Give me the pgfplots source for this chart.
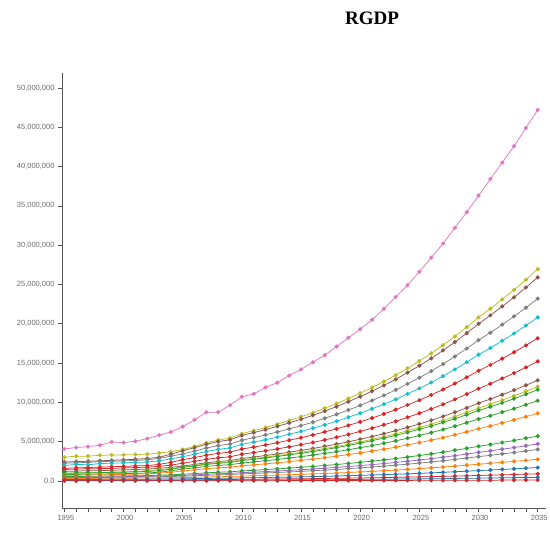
\documentclass[border=0pt]{standalone}
\usepackage{pgfplots}
\pgfplotsset{compat=1.18}
\usepackage{pgfplotstable}
\usepackage{fontspec}
\setmainfont{Liberation Sans}
\newfontfamily\titlefont{Liberation Serif}
\definecolor{tblue}{HTML}{1F77B4}
\definecolor{torange}{HTML}{FF7F0E}
\definecolor{tgreen}{HTML}{2CA02C}
\definecolor{tred}{HTML}{D62728}
\definecolor{tpurple}{HTML}{9467BD}
\definecolor{tbrown}{HTML}{8C564B}
\definecolor{tpink}{HTML}{E377C2}
\definecolor{tgray}{HTML}{7F7F7F}
\definecolor{tolive}{HTML}{BCBD22}
\definecolor{tcyan}{HTML}{17BECF}
\definecolor{axgray}{HTML}{555555}
\definecolor{lblgray}{HTML}{6A6A6A}
\pgfplotstableread{
year pk ol br gy cy ra rb bb ob ga gb oa gc pu gz oc bl rc bz rd
1995 4.07 3.00 2.40 2.25 1.95 1.60 1.45 1.20 0.90 1.00 0.80 0.70 0.55 0.45 0.40 0.30 0.18 0.08 0.04 0.01
1996 4.24 3.15 2.45 2.30 2.10 1.65 1.50 1.25 0.95 1.02 0.82 0.72 0.56 0.46 0.41 0.30 0.18 0.08 0.04 0.01
1997 4.36 3.15 2.50 2.35 2.05 1.70 1.55 1.30 1.00 1.05 0.85 0.75 0.58 0.48 0.42 0.31 0.19 0.09 0.04 0.01
1998 4.54 3.25 2.55 2.45 2.20 1.75 1.55 1.30 1.05 1.05 0.88 0.78 0.60 0.50 0.43 0.32 0.19 0.09 0.04 0.01
1999 4.96 3.30 2.62 2.50 2.25 1.80 1.60 1.35 1.10 1.08 0.90 0.80 0.62 0.52 0.45 0.33 0.20 0.09 0.04 0.01
2000 4.87 3.30 2.68 2.55 2.30 1.85 1.65 1.40 1.15 1.10 0.92 0.82 0.63 0.54 0.46 0.34 0.20 0.10 0.05 0.02
2001 5.05 3.35 2.75 2.60 2.35 1.90 1.70 1.45 1.20 1.15 0.95 0.85 0.65 0.56 0.48 0.35 0.21 0.10 0.05 0.02
2002 5.38 3.40 2.85 2.70 2.40 1.95 1.75 1.50 1.30 1.20 1.00 0.90 0.68 0.58 0.50 0.36 0.22 0.11 0.05 0.02
2003 5.81 3.55 3.00 2.85 2.55 2.10 1.85 1.60 1.42 1.30 1.10 0.98 0.72 0.62 0.53 0.38 0.23 0.11 0.05 0.02
2004 6.23 3.70 3.40 3.15 2.80 2.35 2.00 1.72 1.58 1.48 1.28 1.10 0.78 0.66 0.56 0.40 0.24 0.12 0.05 0.02
2005 6.91 3.99 3.83 3.43 3.08 2.69 2.25 1.89 1.78 1.72 1.51 1.27 0.84 0.70 0.59 0.41 0.25 0.13 0.07 0.02
2006 7.76 4.39 4.22 3.78 3.39 2.96 2.48 2.09 1.96 1.89 1.66 1.40 0.93 0.77 0.65 0.45 0.28 0.15 0.07 0.02
2007 8.74 4.85 4.66 4.18 3.74 3.27 2.74 2.30 2.16 2.09 1.84 1.55 1.03 0.85 0.72 0.50 0.31 0.16 0.08 0.02
2008 8.74 5.20 5.00 4.48 4.01 3.50 2.93 2.47 2.32 2.24 1.97 1.66 1.10 0.91 0.77 0.53 0.33 0.17 0.09 0.03
2009 9.63 5.44 5.23 4.69 4.20 3.67 3.07 2.59 2.42 2.34 2.06 1.74 1.15 0.95 0.81 0.56 0.34 0.18 0.09 0.03
2010 10.70 6.01 5.78 5.17 4.64 4.05 3.39 2.85 2.68 2.59 2.27 1.92 1.27 1.05 0.89 0.61 0.38 0.20 0.10 0.03
2011 11.07 6.39 6.14 5.50 4.93 4.30 3.60 3.03 2.84 2.75 2.42 2.04 1.35 1.11 0.95 0.65 0.40 0.21 0.11 0.03
2012 11.90 6.79 6.53 5.85 5.24 4.57 3.83 3.23 3.02 2.92 2.57 2.17 1.44 1.18 1.01 0.69 0.43 0.23 0.11 0.03
2013 12.50 7.22 6.94 6.22 5.57 4.86 4.07 3.43 3.22 3.11 2.73 2.30 1.53 1.26 1.07 0.74 0.46 0.24 0.12 0.03
2014 13.40 7.68 7.38 6.61 5.93 5.17 4.33 3.65 3.42 3.31 2.91 2.45 1.62 1.34 1.14 0.78 0.48 0.26 0.13 0.04
2015 14.20 8.17 7.85 7.03 6.30 5.50 4.61 3.88 3.64 3.51 3.09 2.61 1.73 1.42 1.21 0.83 0.52 0.27 0.14 0.04
2016 15.10 8.68 8.34 7.47 6.70 5.84 4.89 4.12 3.86 3.74 3.28 2.77 1.84 1.51 1.29 0.89 0.55 0.29 0.14 0.04
2017 16.00 9.24 8.88 7.96 7.13 6.23 5.21 4.39 4.12 3.98 3.50 2.95 1.96 1.61 1.37 0.94 0.58 0.31 0.15 0.04
2018 17.10 9.84 9.45 8.47 7.59 6.62 5.55 4.67 4.38 4.23 3.72 3.14 2.08 1.72 1.46 1.00 0.62 0.33 0.16 0.05
2019 18.20 10.48 10.08 9.02 8.09 7.06 5.91 4.98 4.67 4.51 3.97 3.35 2.22 1.83 1.56 1.07 0.66 0.35 0.18 0.05
2020 19.30 11.16 10.72 9.60 8.61 7.51 6.29 5.30 4.97 4.80 4.22 3.56 2.36 1.95 1.66 1.14 0.70 0.37 0.19 0.05
2021 20.50 11.88 11.42 10.23 9.17 8.00 6.70 5.64 5.29 5.12 4.50 3.79 2.51 2.07 1.76 1.21 0.75 0.40 0.20 0.05
2022 21.90 12.64 12.15 10.88 9.76 8.51 7.13 6.00 5.63 5.44 4.78 4.03 2.67 2.20 1.88 1.29 0.80 0.42 0.21 0.06
2023 23.40 13.45 12.92 11.58 10.38 9.06 7.58 6.39 5.99 5.79 5.09 4.29 2.84 2.35 2.00 1.37 0.85 0.45 0.22 0.06
2024 24.90 14.34 13.78 12.34 11.07 9.66 8.09 6.81 6.38 6.17 5.43 4.58 3.03 2.50 2.13 1.46 0.90 0.48 0.24 0.06
2025 26.60 15.25 14.66 13.13 11.77 10.27 8.60 7.24 6.79 6.57 5.77 4.87 3.23 2.66 2.26 1.56 0.96 0.51 0.25 0.07
2026 28.40 16.22 15.59 13.97 12.52 10.93 9.15 7.71 7.22 6.98 6.14 5.18 3.43 2.83 2.41 1.66 1.02 0.54 0.27 0.07
2027 30.20 17.27 16.60 14.87 13.33 11.63 9.74 8.20 7.69 7.44 6.54 5.51 3.65 3.01 2.56 1.76 1.09 0.58 0.29 0.07
2028 32.20 18.38 17.66 15.82 14.19 12.38 10.37 8.73 8.18 7.91 6.96 5.87 3.89 3.21 2.73 1.88 1.16 0.61 0.31 0.08
2029 34.20 19.57 18.80 16.84 15.10 13.18 11.04 9.29 8.71 8.42 7.41 6.24 4.14 3.41 2.90 2.00 1.23 0.65 0.33 0.08
2030 36.30 20.81 19.99 17.91 16.06 14.01 11.73 9.88 9.26 8.96 7.87 6.64 4.40 3.63 3.09 2.12 1.31 0.69 0.35 0.09
2031 38.40 21.91 21.06 18.86 16.91 14.76 12.36 10.41 9.76 9.43 8.29 6.99 4.63 3.82 3.25 2.24 1.38 0.73 0.37 0.09
2032 40.50 23.10 22.20 19.88 17.83 15.55 13.03 10.97 10.28 9.94 8.74 7.37 4.88 4.03 3.43 2.36 1.46 0.77 0.39 0.10
2033 42.60 24.31 23.36 20.93 18.76 16.37 13.71 11.55 10.82 10.46 9.20 7.76 5.14 4.24 3.61 2.48 1.53 0.81 0.41 0.10
2034 44.90 25.60 24.61 22.04 19.76 17.24 14.44 12.16 11.40 11.02 9.69 8.17 5.42 4.47 3.80 2.61 1.62 0.86 0.43 0.11
2035 47.20 26.95 25.90 23.20 20.80 18.15 15.20 12.80 12.00 11.60 10.20 8.60 5.70 4.70 4.00 2.75 1.70 0.90 0.45 0.11
}\data
\begin{document}
\begin{tikzpicture}
\begin{axis}[
  scale only axis,
  width=484pt, height=435pt,
  at={(0pt,0pt)}, anchor=south west,
  xmin=1994.8, xmax=2035.7,
  ymin=-3.45, ymax=51.9,
  axis x line=bottom, axis y line=left,
  axis line style={-, color=axgray, line width=0.8pt},
  xtick={1995,2000,...,2035},
  minor xtick={1995,...,2035},
  ytick={0,5,...,50},
  yticklabels={0.0,{5,000,000},{10,000,000},{15,000,000},{20,000,000},{25,000,000},{30,000,000},{35,000,000},{40,000,000},{45,000,000},{50,000,000}},
  /pgf/number format/1000 sep={},
  /pgf/number format/assume math mode=true,
  tick label style={font=\fontsize{7.5}{9}\selectfont, text=lblgray},
  xticklabel style={xshift=1.5pt},
  tick align=outside,
  major tick length=4pt, minor tick length=4pt,
  tick style={color=axgray, line width=0.6pt},
  every axis plot/.append style={mark=*, mark size=1.7pt, line width=0.75pt},
]
\addplot[color=tpink] table[x=year,y=pk]{\data};
\addplot[color=tolive] table[x=year,y=ol]{\data};
\addplot[color=tbrown] table[x=year,y=br]{\data};
\addplot[color=tgray] table[x=year,y=gy]{\data};
\addplot[color=tcyan] table[x=year,y=cy]{\data};
\addplot[color=tred] table[x=year,y=ra]{\data};
\addplot[color=tred] table[x=year,y=rb]{\data};
\addplot[color=tbrown] table[x=year,y=bb]{\data};
\addplot[color=tolive] table[x=year,y=ob]{\data};
\addplot[color=tgreen] table[x=year,y=ga]{\data};
\addplot[color=tgreen] table[x=year,y=gb]{\data};
\addplot[color=torange] table[x=year,y=oa]{\data};
\addplot[color=tgreen] table[x=year,y=gc]{\data};
\addplot[color=tpurple] table[x=year,y=pu]{\data};
\addplot[color=tgray] table[x=year,y=gz]{\data};
\addplot[color=torange] table[x=year,y=oc]{\data};
\addplot[color=tblue] table[x=year,y=bl]{\data};
\addplot[color=tred] table[x=year,y=rc]{\data};
\addplot[color=tblue] table[x=year,y=bz]{\data};
\addplot[color=tred] table[x=year,y=rd]{\data};
\end{axis}
\node[font=\titlefont\bfseries\fontsize{19}{22}\selectfont] at (310pt,490pt) {RGDP};
\pgfresetboundingbox
\useasboundingbox (-62pt,-28pt) rectangle (488pt,508pt);
\end{tikzpicture}
\end{document}
